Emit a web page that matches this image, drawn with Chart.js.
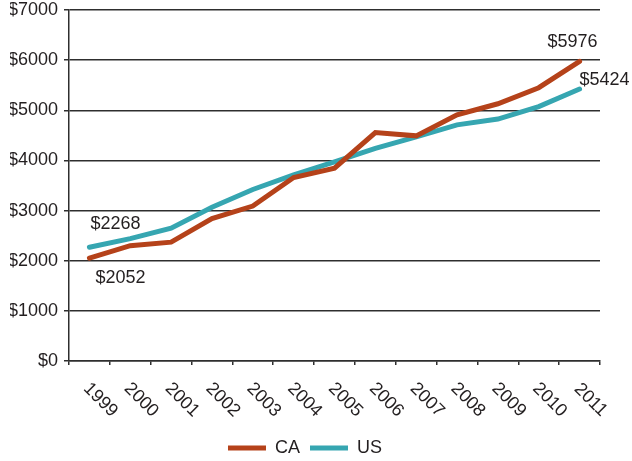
<!DOCTYPE html>
<html>
<head>
<meta charset="utf-8">
<script src="https://cdn.jsdelivr.net/npm/chart.js@4/dist/chart.umd.min.js"></script>
<style>
html,body{margin:0;padding:0;background:#fff;}
#wrap{width:632px;height:461px;}
</style>
</head>
<body>
<div id="wrap"><canvas id="c" width="632" height="461"></canvas></div>
<script>
// ---- data ----
const years = ['1999','2000','2001','2002','2003','2004','2005','2006','2007','2008','2009','2010','2011'];
const caValues = [2052, 2300, 2370, 2840, 3090, 3660, 3845, 4555, 4490, 4910, 5130, 5450, 5976];
const usValues = [2268, 2440, 2650, 3065, 3420, 3710, 3970, 4240, 4470, 4710, 4825, 5075, 5424];
const seriesNames = ['CA', 'US'];
const yMin = 0, yMax = 7000, yStep = 1000;

// ---- style ----
const FONT = '"Liberation Sans", Arial, Helvetica, sans-serif';
const FS = 18;
const TEXT = '#231f20';
const AXIS = '#2e2e2e';
const CA_COLOR = '#b5421a';
const US_COLOR = '#36a6b1';

const labelPlugin = {
  id: 'extraLabels',
  afterDraw(chart) {
    const ctx = chart.ctx;
    const xs = chart.scales.x;
    ctx.save();
    ctx.fillStyle = TEXT;
    ctx.font = FS + 'px ' + FONT;
    ctx.textAlign = 'center';
    ctx.textBaseline = 'middle';
    years.forEach((lab, i) => {
      const x = xs.getPixelForValue(i) + 11;
      const y = xs.top + 39;
      ctx.save();
      ctx.translate(x, y);
      ctx.rotate(Math.PI / 4);
      ctx.fillText(lab, 0, 0);
      ctx.restore();
    });
    const ca = chart.getDatasetMeta(0).data;
    const us = chart.getDatasetMeta(1).data;
    const last = years.length - 1;
    const notes = [
      [ca[0], caValues[0], 31, 20],
      [us[0], usValues[0], 26, -23],
      [ca[last], caValues[last], -7, -19],
      [us[last], usValues[last], 25, -9]
    ];
    notes.forEach(([pt, v, dx, dy]) => {
      ctx.fillText('$' + v, pt.x + dx, pt.y + dy);
    });
    ctx.restore();
  }
};

new Chart(document.getElementById('c'), {
  type: 'line',
  data: {
    labels: years,
    datasets: [
      { label: seriesNames[0], data: caValues, borderColor: CA_COLOR, backgroundColor: CA_COLOR,
        borderWidth: 5, pointRadius: 0, tension: 0, borderCapStyle: 'round', borderJoinStyle: 'miter', fill: false },
      { label: seriesNames[1], data: usValues, borderColor: US_COLOR, backgroundColor: US_COLOR,
        borderWidth: 5, pointRadius: 0, tension: 0, borderCapStyle: 'round', borderJoinStyle: 'miter', fill: false }
    ]
  },
  options: {
    responsive: false,
    animation: false,
    devicePixelRatio: 1,
    layout: { padding: { left: 10, right: 32, top: 0, bottom: -6 } },
    plugins: {
      legend: {
        position: 'bottom',
        labels: {
          usePointStyle: true,
          pointStyle: 'line',
          pointStyleWidth: 38,
          boxWidth: 38,
          padding: 10,
          color: TEXT,
          font: { size: FS, family: FONT }
        }
      },
      tooltip: { enabled: false }
    },
    scales: {
      x: {
        type: 'category',
        offset: true,
        grid: { offset: true, drawOnChartArea: false, drawTicks: true, tickLength: 4, color: AXIS, lineWidth: 1.5 },
        border: { display: true, color: AXIS, width: 1.5 },
        ticks: { display: false },
        afterFit: (s) => { s.height = 68; }
      },
      y: {
        min: yMin, max: yMax,
        ticks: { stepSize: yStep, callback: (v) => '$' + v, color: TEXT, font: { size: FS, family: FONT }, padding: 6 },
        grid: { color: AXIS, lineWidth: 1.5, tickLength: 5, drawTicks: true },
        border: { display: true, color: AXIS, width: 1.5 },
        afterFit: (s) => { s.width = 59; s.paddingTop = 10; s.paddingBottom = 0; }
      }
    }
  },
  plugins: [labelPlugin]
});
</script>
</body>
</html>
